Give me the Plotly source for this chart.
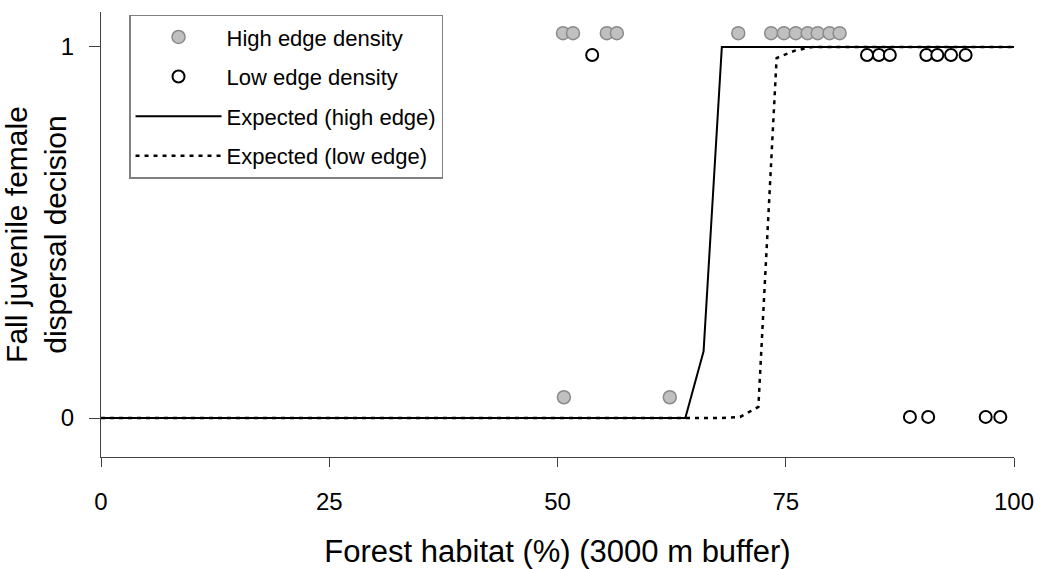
import plotly.graph_objects as go

# Observed dispersal decisions (1 = dispersed, 0 = stayed), jittered vertically
high_x_disp = [50.6, 51.7, 55.4, 56.5, 69.8, 73.4, 74.8, 76.1, 77.4, 78.5, 79.8, 80.9]
high_y_disp = [1.037] * len(high_x_disp)
high_x_stay = [50.7, 62.3]
high_y_stay = [0.056] * len(high_x_stay)

low_x_disp = [53.8, 83.9, 85.2, 86.4, 90.4, 91.6, 93.1, 94.7]
low_y_disp = [0.978] * len(low_x_disp)
low_x_stay = [88.6, 90.6, 96.9, 98.5]
low_y_stay = [0.003] * len(low_x_stay)

# Expected probabilities from the fitted models, evaluated every 2 %
curve_x = list(range(0, 101, 2))
exp_high = [0.0] * 33 + [0.18] + [1.0] * 17
exp_low = [0.0] * 35 + [0.003, 0.03, 0.97, 0.99] + [1.0] * 12

font_family = "Liberation Sans, Arial, sans-serif"

fig = go.Figure()

fig.add_trace(go.Scatter(
    x=high_x_disp + high_x_stay, y=high_y_disp + high_y_stay,
    mode="markers", name="High edge density", legendgroup="a",
    marker=dict(size=13, color="#c0c0c0", line=dict(color="#8a8a8a", width=1.5)),
))
fig.add_trace(go.Scatter(
    x=low_x_disp + low_x_stay, y=low_y_disp + low_y_stay,
    mode="markers", name="Low edge density", legendgroup="b",
    marker=dict(size=12, color="white", line=dict(color="black", width=2)),
))
fig.add_trace(go.Scatter(
    x=curve_x, y=exp_high, mode="lines", name="Expected (high edge)", legendgroup="c",
    line=dict(color="black", width=2),
))
fig.add_trace(go.Scatter(
    x=curve_x, y=exp_low, mode="lines", name="Expected (low edge)", legendgroup="d",
    line=dict(color="black", width=2.5, dash="4px,5px"),
))

fig.update_layout(
    width=1047, height=569,
    margin=dict(l=101, r=33, t=12, b=112),
    plot_bgcolor="white", paper_bgcolor="white",
    font=dict(family=font_family, color="black", size=23),
    showlegend=True,
    legend=dict(
        x=0.0307, y=0.994, xanchor="left", yanchor="top",
        bgcolor="white", bordercolor="#808080", borderwidth=1.5,
        font=dict(size=22), itemwidth=86, traceorder="grouped",
        tracegroupgap=8,
    ),
    xaxis=dict(
        range=[0, 100], tickvals=[0, 25, 50, 75, 100],
        showgrid=False, zeroline=False, showline=True, automargin=False,
        linecolor="#404040", linewidth=1,
        ticks="outside", ticklen=9, tickcolor="#404040",
        tickfont=dict(size=24), ticklabelstandoff=14,
        title=dict(text="Forest habitat (%) (3000 m buffer)",
                   font=dict(size=31), standoff=26),
    ),
    yaxis=dict(
        range=[-0.105, 1.094], tickvals=[0, 1],
        showgrid=False, zeroline=False, showline=True, automargin=False,
        linecolor="#404040", linewidth=1,
        ticks="outside", ticklen=11, tickcolor="#404040",
        tickfont=dict(size=24), ticklabelstandoff=10,
        title=dict(text="Fall juvenile female<br>dispersal decision",
                   font=dict(size=30), standoff=12),
    ),
)

fig.write_html("out.html")
